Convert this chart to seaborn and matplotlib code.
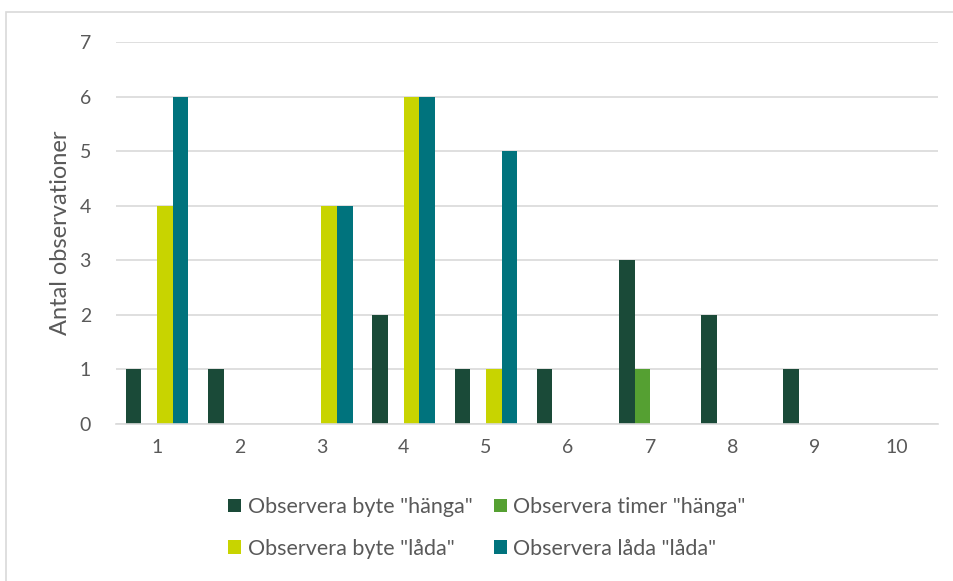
import matplotlib
matplotlib.use("Agg")
import matplotlib.pyplot as plt
from matplotlib.patches import Patch, Rectangle
import seaborn as sns
import pandas as pd

categories = [1, 2, 3, 4, 5, 6, 7, 8, 9, 10]
series_names = ['Observera byte "hänga"', 'Observera timer "hänga"',
                'Observera byte "låda"', 'Observera låda "låda"']
byte_hanga = [1, 1, 0, 2, 1, 1, 3, 2, 1, 0]
timer_hanga = [0, 0, 0, 0, 0, 0, 1, 0, 0, 0]
byte_lada = [4, 0, 4, 6, 1, 0, 0, 0, 0, 0]
lada_lada = [6, 0, 4, 6, 5, 0, 0, 0, 0, 0]
colors = ["#1A4A38", "#55A032", "#C8D400", "#00737D"]
y_ticks = [0, 1, 2, 3, 4, 5, 6, 7]

rows = []
for name, vals in zip(series_names, [byte_hanga, timer_hanga, byte_lada, lada_lada]):
    for c, v in zip(categories, vals):
        rows.append({"cat": str(c), "serie": name, "value": v})
df = pd.DataFrame(rows)

sns.set_theme(style="white")
plt.rcParams["font.family"] = ["Lato", "DejaVu Sans"]

fig = plt.figure(figsize=(9.54, 5.81), dpi=100)
ax = fig.add_axes([116 / 954, 157 / 581, 822 / 954, 382 / 581])

sns.barplot(data=df, x="cat", y="value", hue="serie",
            order=[str(c) for c in categories], hue_order=series_names,
            palette=colors, width=0.76, dodge=True, saturation=1,
            errorbar=None, ax=ax, legend=False, linewidth=0)

ax.set_ylim(0, 7)
ax.set_yticks(y_ticks)
ax.set_xlim(-0.5, len(categories) - 0.5)
ax.yaxis.grid(True, color="#D9D9D9", linewidth=1.2)
ax.set_axisbelow(True)
for s in ["top", "right", "left"]:
    ax.spines[s].set_visible(False)
ax.spines["bottom"].set_color("#D9D9D9")
ax.spines["bottom"].set_linewidth(1.2)
ax.tick_params(axis="both", length=0, labelsize=14, colors="#595959")
ax.tick_params(axis="y", pad=18)
ax.tick_params(axis="x", pad=11)
ax.set_xlabel("")
ax.set_ylabel("Antal observationer", fontsize=17, color="#595959", labelpad=6)

# legend laid out row by row: two series per row
order = [0, 2, 1, 3]
handles = [Patch(facecolor=colors[i], edgecolor="none") for i in order]
labels = [series_names[i] for i in order]
fig.legend(handles, labels, loc="center", ncol=2,
           bbox_to_anchor=(487 / 954, 1 - 528 / 581), frameon=False,
           fontsize=15.5, labelcolor="#595959", handlelength=0.6, handleheight=0.6,
           handletextpad=0.3, columnspacing=1.0, labelspacing=1.0)

# chart area border
fig.patches.append(Rectangle((6 / 954, -0.1), 2.0, (581 - 12) / 581 + 0.1,
                             transform=fig.transFigure, fill=False,
                             edgecolor="#D9D9D9", linewidth=1.2))

fig.savefig("out.png", dpi=100)
